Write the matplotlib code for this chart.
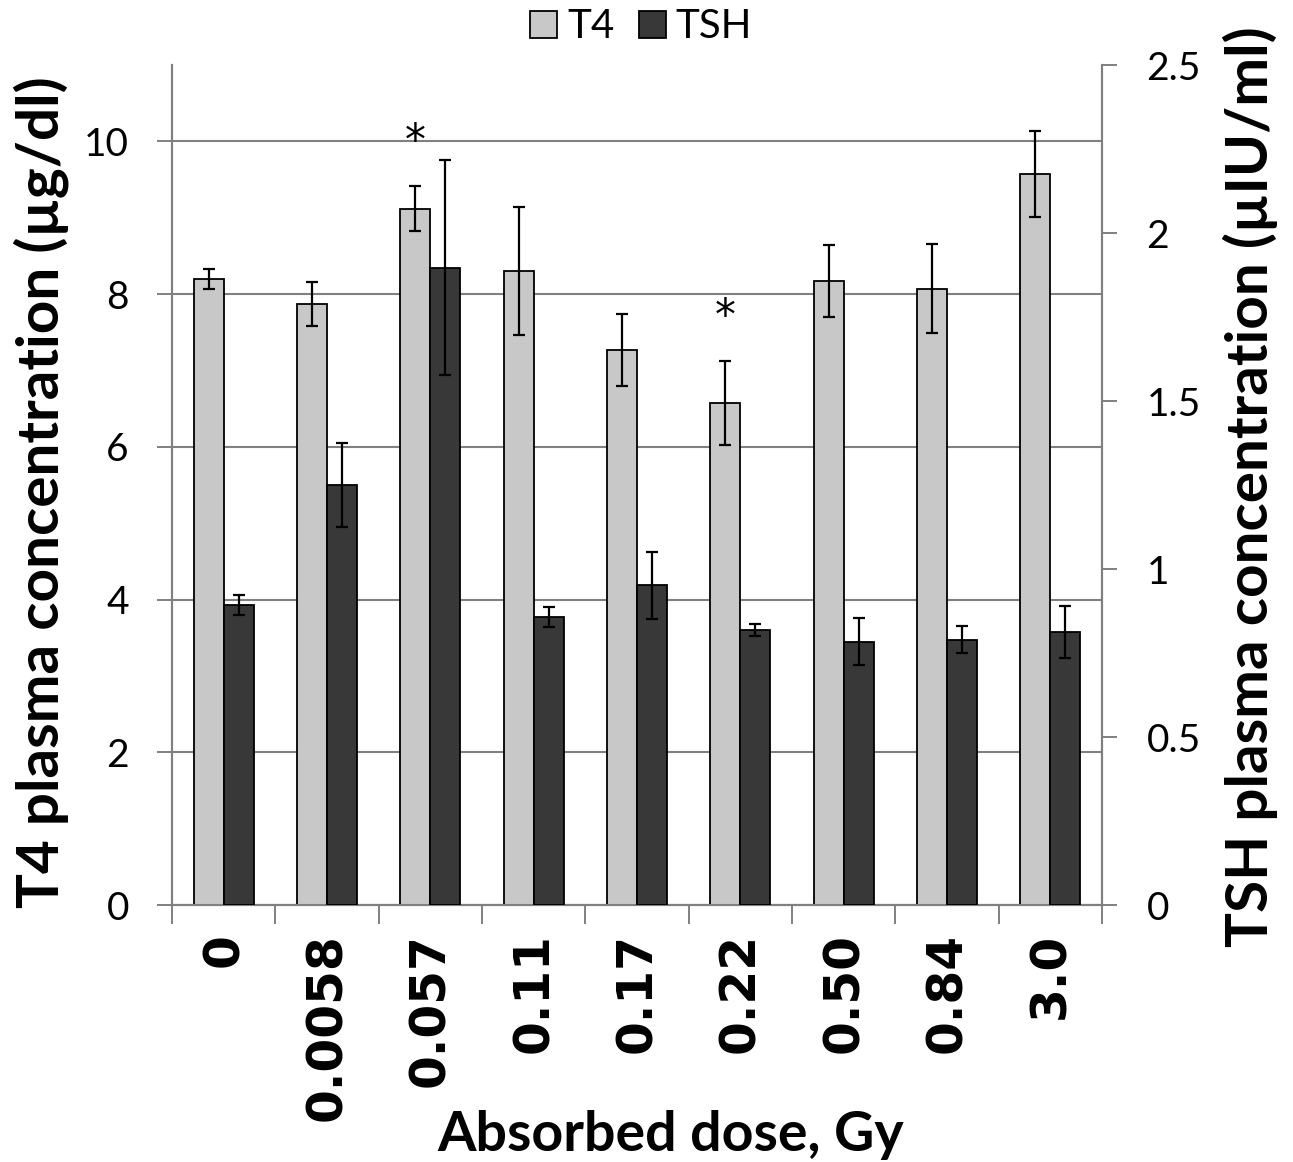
import matplotlib
matplotlib.use("Agg")
import matplotlib.pyplot as plt
import numpy as np
from matplotlib.patches import Patch

# ---- data ----
doses = ["0", "0.0058", "0.057", "0.11", "0.17", "0.22", "0.50", "0.84", "3.0"]
t4_mean = [8.20, 7.87, 9.12, 8.30, 7.27, 6.57, 8.17, 8.07, 9.57]
t4_err = [0.13, 0.29, 0.29, 0.84, 0.47, 0.55, 0.47, 0.58, 0.56]
tsh_mean = [0.893, 1.25, 1.896, 0.857, 0.952, 0.818, 0.783, 0.789, 0.812]
tsh_err = [0.03, 0.125, 0.32, 0.03, 0.10, 0.018, 0.07, 0.04, 0.077]
significant = [False, False, True, False, False, True, False, False, False]

T4_COLOR = "#c8c8c8"
TSH_COLOR = "#383838"
GRAY = "#808080"

plt.rcParams["font.family"] = ["Lato", "DejaVu Sans"]

W, H = 1293, 1162
fig = plt.figure(figsize=(W / 100, H / 100), dpi=100)
ax = fig.add_axes([172 / W, 1 - 905 / H, (1102 - 172) / W, (905 - 65) / H])
ax2 = ax.twinx()

x = np.arange(len(doses))
bw = 0.29
ekw = dict(elinewidth=1.6, capthick=1.6, ecolor="black")
ax.bar(x - bw / 2, t4_mean, bw, color=T4_COLOR, edgecolor="black", linewidth=1.3,
       yerr=t4_err, capsize=4.5, error_kw=ekw, zorder=3)
ax2.bar(x + bw / 2, tsh_mean, bw, color=TSH_COLOR, edgecolor="black", linewidth=1.3,
        yerr=tsh_err, capsize=4.5, error_kw=ekw, zorder=3)

for i, s in enumerate(significant):
    if s:
        ax.text(x[i] - bw / 2, t4_mean[i] + t4_err[i] + 0.58, "*", ha="center",
                va="center", fontsize=30, family="DejaVu Sans", zorder=5)

ax.set_xlim(-0.5, len(doses) - 0.5)
ax.set_ylim(0, 11)
ax2.set_ylim(0, 2.5)
ax.set_yticks([0, 2, 4, 6, 8, 10])
ax2.set_yticks([0, 0.5, 1, 1.5, 2, 2.5])
ax2.set_yticklabels(["0", "0.5", "1", "1.5", "2", "2.5"])

ax.set_xticks(x)
ax.set_xticklabels(doses, rotation=90, fontsize=35, fontweight="bold",
                   family="DejaVu Sans", va="top")
ax.set_xticks(np.arange(-0.5, len(doses)), minor=True)
ax.tick_params(axis="x", which="major", length=0, pad=20)
ax.tick_params(axis="x", which="minor", length=14, width=1.4, color=GRAY, direction="out")
ax.tick_params(axis="y", length=11, width=1.4, color=GRAY, direction="out",
               labelsize=28, pad=20)
ax2.tick_params(axis="y", length=11, width=1.4, color=GRAY, direction="out",
                labelsize=28, pad=21)

ax.grid(axis="y", color=GRAY, linewidth=1.5, zorder=0)
ax.set_axisbelow(True)
for a in (ax, ax2):
    a.spines["top"].set_visible(False)
    for sp in ("left", "right", "bottom"):
        a.spines[sp].set_color(GRAY)
        a.spines[sp].set_linewidth(1.5)

fig.text(41 / W, 1 - 492 / H, "T4 plasma concentration (µg/dl)", rotation=90,
         ha="center", va="center", fontsize=42, fontweight="bold")
fig.text(1250 / W, 1 - 487 / H, "TSH plasma concentration (µIU/ml)", rotation=90,
         ha="center", va="center", fontsize=42, fontweight="bold")
fig.text(671 / W, 1 - 1135 / H, "Absorbed dose, Gy", ha="center", va="center",
         fontsize=40, fontweight="bold")

handles = [Patch(facecolor=T4_COLOR, edgecolor="black", linewidth=1.3, label="T4"),
           Patch(facecolor=TSH_COLOR, edgecolor="black", linewidth=1.3, label="TSH")]
fig.legend(handles=handles, loc="center", bbox_to_anchor=(641 / W, 1 - 27 / H), ncol=2,
           frameon=False, fontsize=29, handlelength=0.67, handleheight=0.67,
           handletextpad=0.25, columnspacing=0.6, borderpad=0, borderaxespad=0)

fig.savefig("out.png", dpi=100)
